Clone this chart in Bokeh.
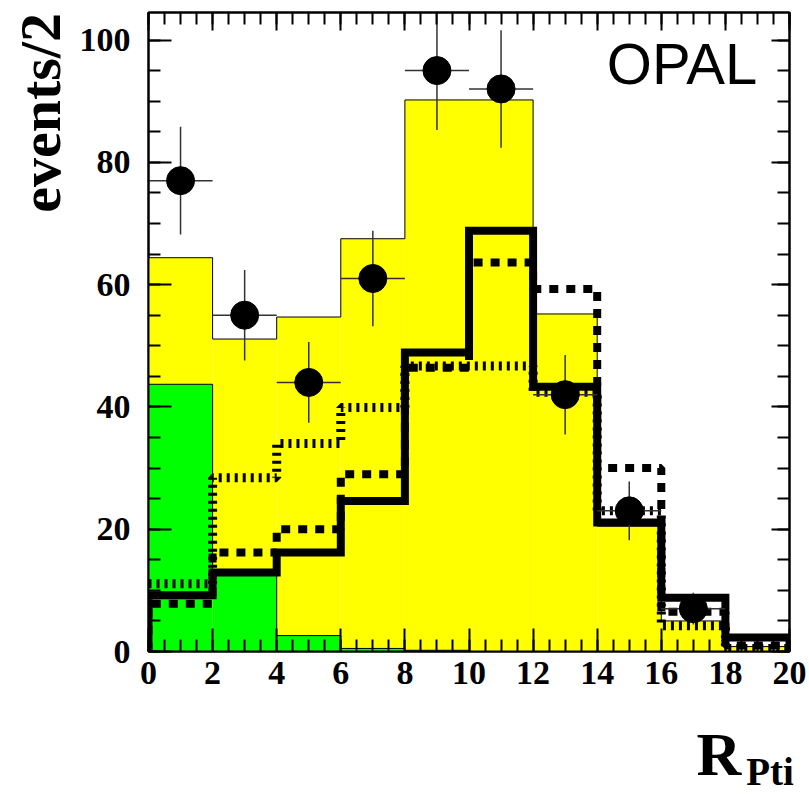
import numpy as np
from bokeh.plotting import figure
from bokeh.models import (LinearAxis, Range1d, FixedTicker, ColumnDataSource, CustomJSTickFormatter)
from bokeh.core.properties import value
from bokeh.embed import file_html
from bokeh.resources import INLINE

# ---- data ----
edges = [0, 2, 4, 6, 8, 10, 12, 14, 16, 18, 20]
total_mc = [64.4, 51.1, 54.7, 67.5, 90.2, 90.2, 55.2, 20.5, 5.0, 0.8]      # yellow
green_bg = [43.7, 12.5, 2.6, 0.5, 0.2, 0.0, 0.0, 0.0, 0.0, 0.0]          # green
solid_thick = [9.2, 12.9, 16.2, 24.6, 48.9, 68.8, 43.3, 21.1, 8.8, 2.3]
dashed_thick = [7.8, 16.2, 20.0, 29.0, 46.4, 63.6, 59.3, 30.0, 6.5, 1.0]
dotted_fine = [11.1, 28.4, 34.0, 39.9, 46.7, 46.7, 42.4, 23.0, 4.2, 0.5]
data_x = [1, 3, 5, 7, 9, 11, 13, 15, 17]
data_y = [77, 55, 44, 61, 95, 92, 42, 23, 7]
data_err = [8.8, 7.4, 6.6, 7.8, 9.7, 9.6, 6.5, 4.8, 2.6]
x_ticks = [0, 2, 4, 6, 8, 10, 12, 14, 16, 18, 20]
y_ticks = [0, 20, 40, 60, 80, 100]
x_minor = [i * 0.5 for i in range(41)]
y_minor = list(range(0, 105, 5))


def step_path(e, v, close=True):
    xs, ys = [], []
    if close:
        xs.append(e[0]); ys.append(0)
    for i, val in enumerate(v):
        xs += [e[i], e[i + 1]]
        ys += [val, val]
    if close:
        xs.append(e[-1]); ys.append(0)
    return xs, ys


p = figure(width=809, height=796, output_backend="svg", toolbar_location=None,
           x_range=Range1d(0, 20), y_range=Range1d(0, 104.5),
           min_border_left=148, min_border_right=20, min_border_top=12,
           min_border_bottom=145)
p.xgrid.visible = False
p.ygrid.visible = False
p.outline_line_color = "black"
p.outline_line_width = 2
p.background_fill_color = "white"
p.border_fill_color = "white"

lefts = edges[:-1]
rights = edges[1:]

p.quad(left=lefts, right=rights, bottom=0, top=total_mc, fill_color="#ffff00", line_color=None)
p.quad(left=lefts, right=rights, bottom=0, top=green_bg, fill_color="#00ff00", line_color=None)

xs, ys = step_path(edges, total_mc, close=False)
p.line(xs, ys, line_color="black", line_width=1)
xs, ys = step_path(edges[:6], green_bg[:5], close=False)
p.line(xs, ys, line_color="black", line_width=1)

xs, ys = step_path(edges, dotted_fine, close=False)
p.line(xs, ys, line_color="black", line_width=9, line_dash="3 5")
xs, ys = step_path(edges, dashed_thick)
p.line(xs, ys, line_color="black", line_width=8, line_dash="9 8")
xs, ys = step_path(edges, solid_thick)
p.line(xs, ys, line_color="black", line_width=8, line_join="miter")

src = ColumnDataSource(dict(x=data_x, y=data_y,
                            x0=[x - 1 for x in data_x], x1=[x + 1 for x in data_x],
                            lo=[y - e for y, e in zip(data_y, data_err)],
                            hi=[y + e for y, e in zip(data_y, data_err)]))
p.segment(x0="x0", x1="x1", y0="y", y1="y", source=src, line_color="#333333", line_width=1.5)
p.segment(x0="x", x1="x", y0="lo", y1="hi", source=src, line_color="#333333", line_width=1.5)
p.scatter(x="x", y="y", source=src, size=28, fill_color="black", line_color="black")

font = "Liberation Serif"
p.xaxis[0].ticker = FixedTicker(ticks=x_ticks, minor_ticks=x_minor)
p.yaxis[0].ticker = FixedTicker(ticks=y_ticks, minor_ticks=y_minor)


def style(ax, labels=True, major=23, minor=12):
    ax.axis_line_color = "black"
    ax.axis_line_width = 2
    ax.major_tick_out = 0
    ax.minor_tick_out = 0
    ax.major_tick_in = major
    ax.minor_tick_in = minor
    ax.major_tick_line_width = 2
    ax.minor_tick_line_width = 2
    ax.major_tick_line_color = "black"
    ax.minor_tick_line_color = "black"
    if labels:
        ax.major_label_text_font = font
        ax.major_label_text_font_style = "bold"
        ax.major_label_text_font_size = "34px"
        ax.major_label_text_color = "black"
    else:
        ax.formatter = CustomJSTickFormatter(code="return ''")
        ax.major_label_standoff = 0


style(p.xaxis[0])
p.xaxis[0].major_label_standoff = 10
style(p.yaxis[0])
p.yaxis[0].major_label_standoff = 18

top_ax = LinearAxis(ticker=FixedTicker(ticks=x_ticks, minor_ticks=x_minor))
style(top_ax, labels=False, major=18, minor=12)
p.add_layout(top_ax, "above")
right_ax = LinearAxis(ticker=FixedTicker(ticks=y_ticks, minor_ticks=y_minor))
style(right_ax, labels=False, major=18, minor=12)
p.add_layout(right_ax, "right")

# texts (overlay level so they are not clipped to the frame)
p.text(x=[-3.38], y=[104.4], text=["events/2"], angle=np.pi / 2,
       text_font=value(font), text_font_style="bold", text_font_size="58px",
       text_align="right", text_baseline="alphabetic", text_color="black", level="overlay")
p.text(x=[17.1], y=[-16.7], text=["R"], text_font=value(font), text_font_style="bold",
       text_font_size="62px", text_baseline="alphabetic", text_color="black", level="overlay")
p.text(x=[18.65], y=[-19.6], text=["Pti"], text_font=value(font), text_font_style="bold",
       text_font_size="39px", text_baseline="alphabetic", text_color="black", level="overlay")
p.text(x=[14.3], y=[96.2], text=["OPAL"], text_font=value("Liberation Sans"),
       text_font_size="58px", text_baseline="alphabetic", text_color="black", level="overlay")

open("out.html", "w").write(file_html(p, INLINE))
